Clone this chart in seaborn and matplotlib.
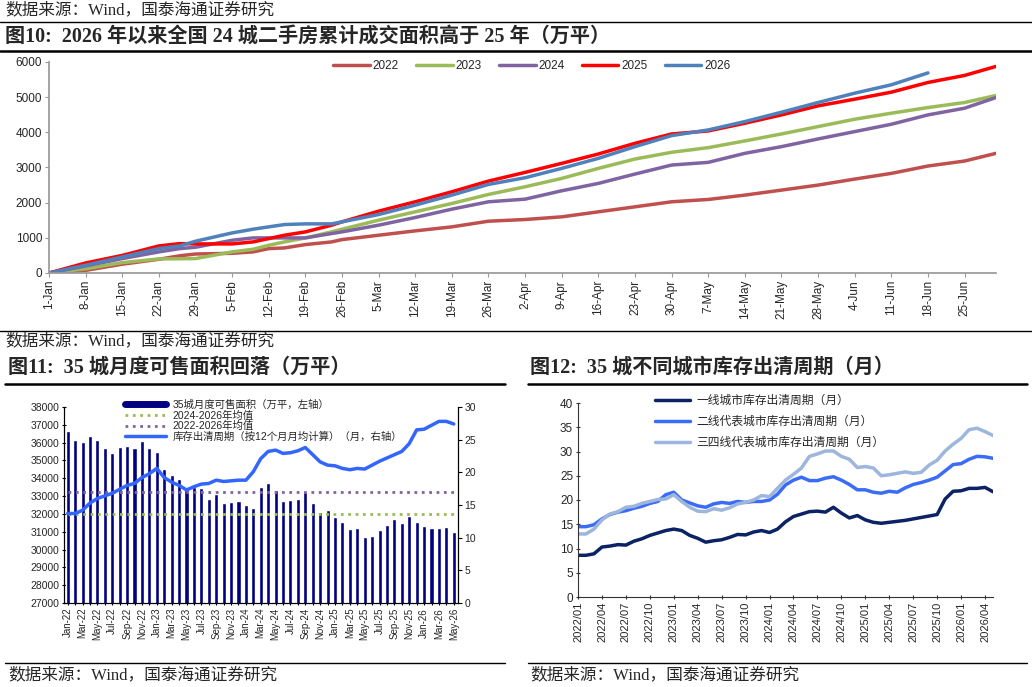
import numpy as np
import pandas as pd
import seaborn as sns
import matplotlib.pyplot as plt
from matplotlib.lines import Line2D

## data ##
# fig 10: cumulative second-hand sales area, 24 cities (10k sqm), by day of year
days = [0, 7, 14, 21, 25, 28, 35, 39, 42, 45, 49, 54, 56, 63, 70, 77, 84, 91, 98,
        105, 112, 119, 126, 133, 140, 147, 154, 161, 168, 175, 181]
day_ticks = list(range(0, 176, 7))
day_labels = ['1-Jan', '8-Jan', '15-Jan', '22-Jan', '29-Jan', '5-Feb', '12-Feb', '19-Feb',
              '26-Feb', '5-Mar', '12-Mar', '19-Mar', '26-Mar', '2-Apr', '9-Apr', '16-Apr',
              '23-Apr', '30-Apr', '7-May', '14-May', '21-May', '28-May', '4-Jun', '11-Jun',
              '18-Jun', '25-Jun']
y2022 = [0, 75, 250, 390, 490, 540, 560, 600, 694, 713, 808, 884, 950, 1074, 1198, 1312,
         1473, 1521, 1597, 1740, 1882, 2025, 2091, 2215, 2357, 2500, 2671, 2833, 3042, 3184, 3403]
y2023 = [0, 120, 295, 400, 405, 410, 600, 675, 789, 884, 998, 1169, 1245, 1502, 1740, 1977,
         2234, 2452, 2690, 2975, 3241, 3432, 3565, 3755, 3954, 4163, 4373, 4544, 4705, 4848, 5048]
y2024 = [0, 200, 410, 600, 694, 732, 931, 998, 998, 998, 998, 1122, 1169, 1360, 1578, 1816,
         2025, 2100, 2338, 2548, 2814, 3070, 3146, 3403, 3593, 3812, 4021, 4230, 4496, 4686, 4990]
y2025 = [0, 285, 500, 770, 836, 827, 827, 884, 979, 1074, 1169, 1359, 1454, 1759, 2025, 2310,
         2614, 2861, 3118, 3384, 3688, 3954, 4040, 4259, 4496, 4753, 4943, 5143, 5418, 5618, 5875]
y2026 = [0, 220, 456, 694, 770, 903, 1140, 1245, 1312, 1378, 1397, 1397, 1454, 1663, 1930, 2215,
         2519, 2709, 2975, 3260, 3593, 3907, 4068, 4306, 4572, 4848, 5114, 5352, 5690, np.nan, np.nan]
years = ['2022', '2023', '2024', '2025', '2026']
year_colors = ['#C0504D', '#9BBB59', '#8064A2', '#FF0000', '#4F81BD']

# fig 11: 35 cities monthly available-for-sale area and clearance cycle
months = pd.date_range('2022-01-01', periods=53, freq='MS').strftime('%b-%y').tolist()
stock = [36670, 36150, 36020, 36370, 36150, 35680, 35440, 35740, 35790, 35680, 36070, 35680,
         35490, 34500, 34170, 33980, 33510, 33490, 33440, 32860, 33140, 32630, 32670, 32740,
         32500, 32330, 33510, 33730, 33340, 32720, 32780, 32860, 33210, 32630, 32110, 32220,
         31810, 31560, 31150, 31230, 30700, 30760, 31100, 31380, 31730, 31470, 31860, 31560,
         31340, 31230, 31230, 31270, 30980]
cycle = [13.7, 13.7, 14.2, 15.3, 16.0, 16.4, 16.8, 17.4, 18.0, 18.3, 19.2, 19.8, 20.6, 19.2,
         18.5, 18.0, 17.3, 17.8, 18.2, 18.3, 18.8, 18.6, 18.7, 18.8, 18.8, 20.1, 22.1, 23.2,
         23.4, 22.9, 23.0, 23.3, 23.8, 22.7, 21.6, 21.1, 21.0, 20.6, 20.4, 20.6, 20.5, 21.1,
         21.7, 22.2, 22.7, 23.2, 24.4, 26.5, 26.6, 27.2, 27.8, 27.8, 27.4]
avg_2024_2026 = 31980
avg_2022_2026 = 33250

# fig 12: clearance cycle by city tier (months)
tier1 = [8.6, 8.6, 8.9, 10.3, 10.5, 10.8, 10.7, 11.5, 12.0, 12.7, 13.2, 13.7, 14.0, 13.7,
         12.7, 12.1, 11.3, 11.6, 11.8, 12.3, 12.9, 12.8, 13.4, 13.7, 13.3, 14.0, 15.5, 16.6,
         17.1, 17.6, 17.7, 17.5, 18.5, 17.3, 16.3, 16.8, 15.9, 15.4, 15.2, 15.4, 15.6, 15.8,
         16.1, 16.4, 16.7, 17.0, 20.2, 21.8, 21.9, 22.4, 22.4, 22.6, 21.7]
tier2 = [14.5, 14.5, 14.9, 16.1, 17.0, 17.5, 17.8, 18.3, 18.7, 19.3, 19.7, 21.1, 21.6, 20.0,
         19.4, 18.8, 18.5, 19.2, 19.5, 19.3, 19.7, 19.5, 19.7, 19.7, 20.0, 21.2, 23.1, 24.1,
         24.7, 24.0, 24.0, 24.5, 24.8, 24.1, 23.2, 22.1, 22.1, 21.6, 21.4, 21.8, 21.6, 22.5,
         23.2, 23.6, 24.1, 24.7, 26.0, 27.3, 27.5, 28.4, 29.0, 28.9, 28.6]
tier34 = [13.0, 13.0, 14.0, 15.9, 17.1, 17.6, 18.5, 18.7, 19.3, 19.7, 20.1, 20.2, 21.1, 19.7,
          18.5, 17.7, 17.6, 18.2, 17.9, 18.4, 19.2, 19.5, 20.0, 20.9, 20.7, 22.4, 24.1, 25.3,
          26.6, 29.0, 29.5, 30.1, 30.1, 29.0, 28.4, 26.7, 26.9, 26.6, 25.0, 25.2, 25.5, 25.8,
          25.5, 25.7, 27.2, 28.2, 30.1, 31.5, 32.7, 34.5, 34.8, 34.1, 33.3]
tier_names = ['一线城市库存出清周期（月）', '二线代表城市库存出清周期（月）', '三四线代表城市库存出清周期（月）']
tier_colors = ['#0B2264', '#3B6CF6', '#9DB6DE']
tier_ticks = list(range(0, 52, 3))
tier_labels = pd.date_range('2022-01-01', periods=53, freq='MS')[tier_ticks].strftime('%Y/%m').tolist()

## style ##
sns.set_theme(style='white')
plt.rcParams['font.family'] = ['Liberation Sans', 'Noto Sans CJK SC']
plt.rcParams['axes.unicode_minus'] = False
SERIF = ['Liberation Serif', 'Noto Sans CJK SC']

W, H = 1032, 687
fig = plt.figure(figsize=(W / 100, H / 100), dpi=100)


def box(l, t, r, b):
    return [l / W, 1 - b / H, (r - l) / W, (b - t) / H]


def hrule(x0, x1, y, lw=1.0):
    fig.add_artist(Line2D([x0 / W, x1 / W], [1 - y / H, 1 - y / H], color='black', lw=lw,
                          transform=fig.transFigure))


def ftext(x, y, s, size=11, bold=False):
    fig.text(x / W, 1 - y / H, s, fontsize=size, family=SERIF,
             fontweight='bold' if bold else 'normal', va='center', ha='left')


source = '数据来源：Wind，国泰海通证券研究'

# header / footer text and rules
ftext(5, 10, source, size=12)
hrule(0, W, 22, 1.0)
ftext(5, 37, '图10:  2026 年以来全国 24 城二手房累计成交面积高于 25 年（万平）', size=14.5, bold=True)
hrule(0, W, 51, 1.8)
hrule(0, W, 331, 1.0)
ftext(5, 341, source, size=12)
ftext(8, 368, '图11:  35 城月度可售面积回落（万平）', size=14.5, bold=True)
hrule(5, 505, 384, 1.8)
ftext(530, 368, '图12:  35 城不同城市库存出清周期（月）', size=14.5, bold=True)
hrule(528, 1027, 384, 1.8)
hrule(5, 505, 663, 1.0)
hrule(528, 1027, 663, 1.0)
ftext(8, 675, source, size=12)
ftext(530, 675, source, size=12)

## fig 10 ##
ax1 = fig.add_axes(box(49, 62, 996, 273))
wide1 = pd.DataFrame(dict(zip(years, [y2022, y2023, y2024, y2025, y2026])), index=days)
long1 = wide1.reset_index(names='day').melt(id_vars='day', var_name='year', value_name='area').dropna()
sns.lineplot(data=long1, x='day', y='area', hue='year', palette=year_colors, linewidth=2.5, ax=ax1)
ax1.set_xlim(0, 181)
ax1.set_ylim(0, 6000)
ax1.set_xticks(day_ticks, day_labels, rotation=90, fontsize=8.5)
ax1.set_yticks(range(0, 6001, 1000))
ax1.tick_params(axis='y', labelsize=8.5)
ax1.tick_params(length=3, width=0.8, color='#999999', pad=2, left=True, bottom=True)
ax1.set_xlabel('')
ax1.set_ylabel('')
for s in ['top', 'right']:
    ax1.spines[s].set_visible(False)
for s in ['left', 'bottom']:
    ax1.spines[s].set_color('#999999')
ax1.legend(loc='upper center', bbox_to_anchor=(0.51, 1.06), ncol=5, frameon=False, fontsize=8.5,
           handlelength=3.1, handletextpad=0.25, columnspacing=1.45)

## fig 11 ##
ax2 = fig.add_axes(box(64, 407, 457.5, 603))
sns.barplot(x=months, y=stock, color='#000080', saturation=1, width=0.55, ax=ax2)
ax2.hlines(avg_2024_2026, 0, 52, colors='#9BBB59', linestyles=':', lw=2)
ax2.hlines(avg_2022_2026, 0, 52, colors='#8064A2', linestyles=':', lw=2)
ax2.set_xlim(-0.5, 52.5)
ax2.set_ylim(27000, 38000)
ax2.set_yticks(range(27000, 38001, 1000))
ax2.set_xticks(range(53), [m if i % 2 == 0 else '' for i, m in enumerate(months)],
               rotation=90, fontsize=7)
ax2.tick_params(axis='y', labelsize=7.5)
ax2.tick_params(length=3, width=0.8, color='black', direction='inout', pad=2, left=True, bottom=True)
ax2.set_xlabel('')
ax2.set_ylabel('')

ax2b = ax2.twinx()
sns.lineplot(x=np.arange(53), y=cycle, color='#3366FF', linewidth=2.5, ax=ax2b)
ax2b.set_ylim(0, 30)
ax2b.set_yticks(range(0, 31, 5))
ax2b.tick_params(axis='y', labelsize=7.5, length=3, width=0.8, color='black', right=True, pad=2)
for a in (ax2, ax2b):
    a.spines['top'].set_visible(False)
    for s in ['left', 'right', 'bottom']:
        a.spines[s].set_color('black')
        a.spines[s].set_linewidth(0.8)

handles2 = [Line2D([0], [0], color='#000080', lw=5),
            Line2D([0], [0], color='#9BBB59', lw=2, ls=':'),
            Line2D([0], [0], color='#8064A2', lw=2, ls=':'),
            Line2D([0], [0], color='#3366FF', lw=2.5)]
labels2 = ['35城月度可售面积（万平，左轴）', '2024-2026年均值', '2022-2026年均值',
           '库存出清周期（按12个月月均计算）（月，右轴）']
ax2b.legend(handles2, labels2, loc='upper left', bbox_to_anchor=(0.13, 1.085), frameon=False,
            fontsize=7.5, handlelength=4.0, handletextpad=0.6, labelspacing=0.05)

## fig 12 ##
ax3 = fig.add_axes(box(578, 403, 993, 597))
wide3 = pd.DataFrame(dict(zip(tier_names, [tier1, tier2, tier34])))
long3 = wide3.reset_index(names='m').melt(id_vars='m', var_name='tier', value_name='cycle')
sns.lineplot(data=long3, x='m', y='cycle', hue='tier', palette=tier_colors, linewidth=2.5, ax=ax3)
ax3.set_xlim(0, 52)
ax3.set_ylim(0, 40)
ax3.set_yticks(range(0, 41, 5))
ax3.set_xticks(tier_ticks, tier_labels, rotation=90, fontsize=8)
ax3.tick_params(axis='y', labelsize=8.5)
ax3.tick_params(length=3, width=0.8, color='#333333', direction='inout', pad=2, left=True, bottom=True)
ax3.set_xlabel('')
ax3.set_ylabel('')
for s in ['top', 'right']:
    ax3.spines[s].set_visible(False)
for s in ['left', 'bottom']:
    ax3.spines[s].set_color('#333333')
    ax3.spines[s].set_linewidth(0.8)
ax3.legend(loc='upper left', bbox_to_anchor=(0.16, 1.095), frameon=False, fontsize=8.5,
           handlelength=3.0, handletextpad=0.5, labelspacing=0.75)

fig.savefig('out.png', dpi=100)
